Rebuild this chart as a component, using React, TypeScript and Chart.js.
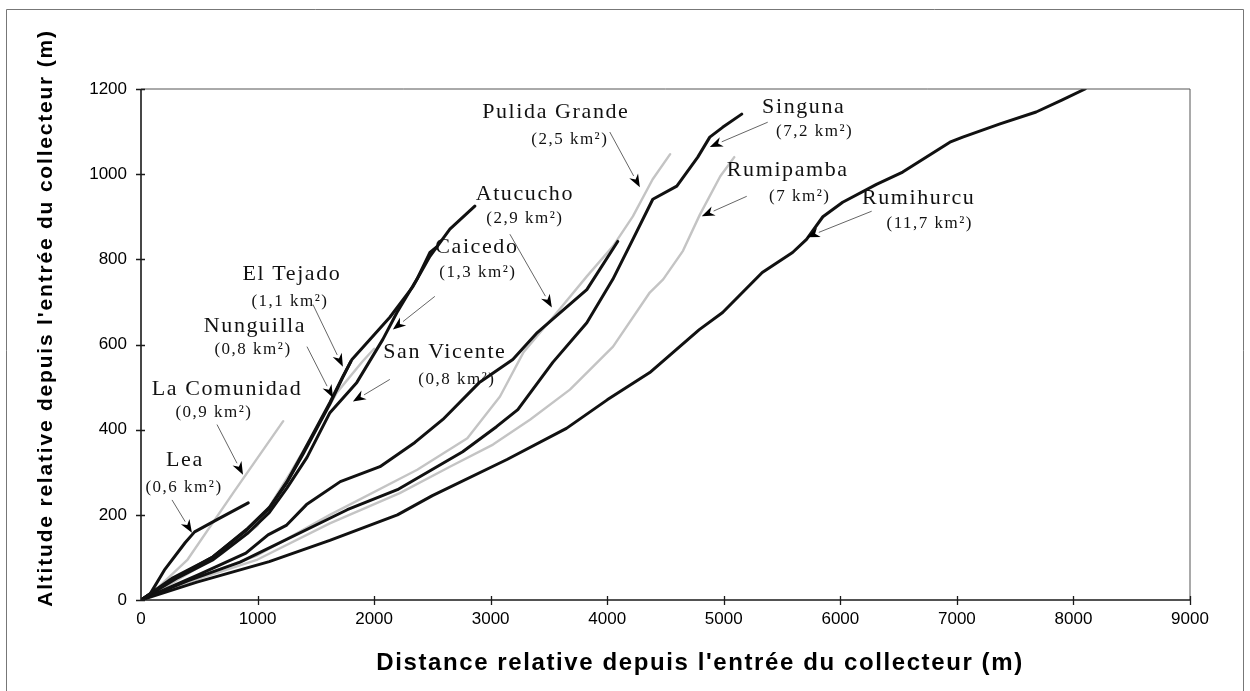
import { useEffect, useRef } from 'react';
import { Chart, registerables } from 'chart.js';

Chart.register(...registerables);

// ---- axis ticks ----
const xTicks = [0, 1000, 2000, 3000, 4000, 5000, 6000, 7000, 8000, 9000];
const yTicks = [0, 200, 400, 600, 800, 1000, 1200];

// ---- series: [distance (m), altitude (m)] ----
const lea = [[0, 0], [80, 15], [200, 70], [380, 135], [460, 160], [660, 190], [920, 228]];
const laComunidad = [[0, 0], [150, 30], [400, 95], [800, 255], [1220, 420]];
const nunguilla = [[0, 0], [270, 48], [610, 100], [910, 165], [1100, 215], [1250, 275], [1390, 342], [1510, 404], [1620, 460], [1730, 522], [1800, 560]];
const elTejado = [[0, 0], [300, 50], [620, 95], [920, 158], [1100, 205], [1250, 262], [1424, 335], [1621, 440], [1852, 511], [2075, 612], [2196, 675], [2367, 753], [2479, 816], [2540, 830]];
const sanVicente = [[0, 0], [300, 45], [700, 110], [1000, 175], [1280, 298], [1500, 400], [1680, 487], [1900, 560], [2000, 590]];
const caicedo = [[0, 0], [274, 52], [617, 101], [918, 169], [1106, 219], [1252, 278], [1389, 346], [1509, 407], [1621, 464], [1732, 525], [1810, 565], [1964, 612], [2135, 664], [2333, 736], [2479, 807], [2650, 871], [2864, 925]];
const atucucho = [[0, 0], [500, 60], [900, 110], [1090, 153], [1250, 176], [1420, 224], [1710, 278], [2050, 313], [2350, 370], [2590, 424], [2900, 510], [3190, 565], [3400, 628], [3530, 659], [3825, 729], [4090, 842]];
const pulidaGrande = [[0, 0], [500, 55], [1000, 105], [1620, 200], [2370, 306], [2800, 380], [3080, 478], [3280, 581], [3590, 682], [3825, 760], [4050, 831], [4220, 901], [4390, 988], [4540, 1047]];
const singuna = [[0, 0], [400, 45], [850, 89], [1770, 212], [2200, 259], [2760, 348], [3050, 407], [3233, 447], [3533, 558], [3825, 651], [4048, 753], [4220, 847], [4391, 941], [4597, 972], [4777, 1040], [4880, 1087], [4990, 1110], [5154, 1141]];
const rumipamba = [[0, 0], [500, 50], [1000, 95], [1620, 180], [2220, 251], [2650, 313], [3020, 365], [3340, 424], [3680, 494], [4050, 595], [4365, 722], [4480, 753], [4650, 820], [4795, 905], [4970, 995], [5090, 1040]];
const rumihurcu = [[0, 0], [480, 42], [1100, 90], [1620, 140], [2200, 200], [2500, 245], [3140, 330], [3650, 403], [4000, 470], [4365, 534], [4790, 635], [4990, 675], [5330, 769], [5590, 816], [5710, 847], [5850, 900], [6020, 934], [6310, 976], [6535, 1005], [6940, 1075], [7050, 1087], [7370, 1118], [7680, 1146], [7900, 1174], [8100, 1200]];

// ---- annotation labels (data coordinates) ----
const labelNames = ['Lea', 'La Comunidad', 'Nunguilla', 'El Tejado', 'San Vicente', 'Caicedo', 'Atucucho', 'Pulida Grande', 'Singuna', 'Rumipamba', 'Rumihurcu'];
const labelAreas = ['0,6', '0,9', '0,8', '1,1', '0,8', '1,3', '2,9', '2,5', '7,2', '7', '11,7'];
const namePos = [[377, 329], [738, 494], [978, 642], [1295, 765], [2607, 581], [2882, 828], [3293, 953], [3559, 1146], [5686, 1158], [5549, 1009], [6672, 944]];
const subPos = [[369, 264], [626, 440], [961, 588], [1278, 701], [2710, 518], [2890, 769], [3293, 896], [3679, 1082], [5780, 1099], [5652, 948], [6767, 885]];
const arrowFrom = [[266, 235], [652, 412], [1424, 595], [1475, 694], [2135, 518], [2521, 713], [3165, 859], [4022, 1099], [5377, 1122], [5197, 948], [6269, 913]];
const arrowTo = [[437, 158], [875, 294], [1647, 475], [1732, 548], [1818, 466], [2161, 635], [3525, 687], [4280, 969], [4880, 1064], [4811, 901], [5712, 852]];

const BLACK = '#111111';
const GRAY = '#c4c4c4';

const seriesList = [
  { label: 'Lea', data: lea, color: BLACK },
  { label: 'Caicedo', data: caicedo, color: BLACK },
  { label: 'El Tejado', data: elTejado, color: BLACK },
  { label: 'Nunguilla', data: nunguilla, color: BLACK },
  { label: 'Atucucho', data: atucucho, color: BLACK },
  { label: 'Singuna', data: singuna, color: BLACK },
  { label: 'Rumihurcu', data: rumihurcu, color: BLACK },
  { label: 'La Comunidad', data: laComunidad, color: GRAY },
  { label: 'San Vicente', data: sanVicente, color: GRAY },
  { label: 'Pulida Grande', data: pulidaGrande, color: GRAY },
  { label: 'Rumipamba', data: rumipamba, color: GRAY },
];

const SANS = '"Liberation Sans", Arial, sans-serif';
const SERIF = '"Liberation Serif", "Times New Roman", serif';

const decorPlugin = {
  id: 'decor',
  beforeDraw(chart: any) {
    const { ctx, width, height } = chart;
    ctx.save();
    ctx.fillStyle = '#ffffff';
    ctx.fillRect(0, 0, width, height);
    // outer frame
    ctx.strokeStyle = '#777777';
    ctx.lineWidth = 1;
    ctx.beginPath();
    ctx.moveTo(6.5, height);
    ctx.lineTo(6.5, 9.5);
    ctx.lineTo(1243.5, 9.5);
    ctx.lineTo(1243.5, height);
    ctx.stroke();
    ctx.restore();
  },
  afterDatasetsDraw(chart: any) {
    const { ctx, chartArea: a, scales } = chart;
    const xs = scales.x;
    const ys = scales.y;
    ctx.save();
    // plot box
    ctx.strokeStyle = '#555555';
    ctx.lineWidth = 1;
    ctx.beginPath();
    ctx.moveTo(a.left, a.top);
    ctx.lineTo(a.right, a.top);
    ctx.lineTo(a.right, a.bottom);
    ctx.stroke();
    ctx.strokeStyle = '#1a1a1a';
    ctx.lineWidth = 1.6;
    ctx.beginPath();
    ctx.moveTo(a.left, a.top);
    ctx.lineTo(a.left, a.bottom);
    ctx.lineTo(a.right, a.bottom);
    ctx.stroke();
    // ticks crossing the axes
    ctx.lineWidth = 1.3;
    ctx.beginPath();
    xTicks.forEach((v) => {
      const px = Math.round(xs.getPixelForValue(v)) + 0.5;
      if (v === 0) return;
      ctx.moveTo(px, a.bottom - 4);
      ctx.lineTo(px, a.bottom + 5);
    });
    yTicks.forEach((v) => {
      const py = Math.round(ys.getPixelForValue(v)) + 0.5;
      ctx.moveTo(a.left - 5, py);
      ctx.lineTo(a.left + 4, py);
    });
    ctx.stroke();

    // axis titles
    ctx.fillStyle = '#000000';
    ctx.textAlign = 'center';
    ctx.textBaseline = 'middle';
    (ctx as any).letterSpacing = '1.6px';
    ctx.font = `bold 24px ${SANS}`;
    ctx.fillText("Distance relative depuis l'entrée du collecteur (m)", 700, 663);
    ctx.save();
    ctx.translate(46, 318);
    ctx.rotate(-Math.PI / 2);
    (ctx as any).letterSpacing = '1.8px';
    ctx.font = `bold 21px ${SANS}`;
    ctx.fillText("Altitude relative depuis l'entrée du collecteur (m)", 0, 0);
    ctx.restore();
    (ctx as any).letterSpacing = '0px';

    // annotations
    labelNames.forEach((name, i) => {
      const fx = xs.getPixelForValue(arrowFrom[i][0]);
      const fy = ys.getPixelForValue(arrowFrom[i][1]);
      const tx = xs.getPixelForValue(arrowTo[i][0]);
      const ty = ys.getPixelForValue(arrowTo[i][1]);
      const ang = Math.atan2(ty - fy, tx - fx);
      const headLen = 13;
      const headW = 5;
      const bx = tx - Math.cos(ang) * headLen;
      const by = ty - Math.sin(ang) * headLen;
      ctx.strokeStyle = '#666666';
      ctx.lineWidth = 1;
      ctx.beginPath();
      ctx.moveTo(fx, fy);
      ctx.lineTo(bx, by);
      ctx.stroke();
      ctx.fillStyle = '#000000';
      ctx.beginPath();
      ctx.moveTo(tx, ty);
      ctx.lineTo(bx - Math.sin(ang) * headW, by + Math.cos(ang) * headW);
      ctx.lineTo(bx + Math.cos(ang) * 4, by + Math.sin(ang) * 4);
      ctx.lineTo(bx + Math.sin(ang) * headW, by - Math.cos(ang) * headW);
      ctx.closePath();
      ctx.fill();

      ctx.fillStyle = '#111111';
      ctx.textAlign = 'center';
      ctx.textBaseline = 'middle';
      (ctx as any).letterSpacing = '1.6px';
      ctx.font = `22px ${SERIF}`;
      ctx.fillText(name, xs.getPixelForValue(namePos[i][0]), ys.getPixelForValue(namePos[i][1]));
      (ctx as any).letterSpacing = '1.5px';
      ctx.font = `17px ${SERIF}`;
      ctx.fillText(`(${labelAreas[i]} km²)`, xs.getPixelForValue(subPos[i][0]), ys.getPixelForValue(subPos[i][1]));
      (ctx as any).letterSpacing = '0px';
    });
    ctx.restore();
  },
};

export default function App() {
  const canvasRef = useRef<HTMLCanvasElement | null>(null);

  useEffect(() => {
    if (!canvasRef.current) return;
    const chart = new Chart(canvasRef.current, {
      type: 'line',
      data: {
        datasets: seriesList.map((s) => ({
          label: s.label,
          data: s.data.map(([x, y]) => ({ x, y })),
          borderColor: s.color,
          backgroundColor: s.color,
          borderWidth: s.color === BLACK ? 3 : 2.4,
          pointRadius: 0,
          tension: 0,
          fill: false,
          borderJoinStyle: 'round' as const,
          borderCapStyle: 'round' as const,
        })),
      },
      options: {
        animation: false,
        responsive: false,
        layout: { padding: { left: 0, right: 60, top: 89, bottom: 0 } },
        plugins: { legend: { display: false }, tooltip: { enabled: false }, title: { display: false } },
        scales: {
          x: {
            type: 'linear',
            min: 0,
            max: 9000,
            afterBuildTicks: (s: any) => { s.ticks = xTicks.map((v) => ({ value: v })); },
            afterFit: (s: any) => { s.height = 91; },
            ticks: { font: { family: SANS, size: 17 }, color: '#000', padding: 9, maxRotation: 0, autoSkip: false, callback: (v: any) => String(v) },
            grid: { display: false, drawTicks: false },
            border: { display: false },
          },
          y: {
            type: 'linear',
            min: 0,
            max: 1200,
            afterBuildTicks: (s: any) => { s.ticks = yTicks.map((v) => ({ value: v })); },
            afterFit: (s: any) => { s.width = 141; },
            ticks: { font: { family: SANS, size: 17 }, color: '#000', padding: 14, autoSkip: false, callback: (v: any) => String(v) },
            grid: { display: false, drawTicks: false },
            border: { display: false },
          },
        },
      },
      plugins: [decorPlugin],
    });
    return () => chart.destroy();
  }, []);

  return (
    <div style={{ position: 'fixed', left: 0, top: 0, width: 1250, height: 691, background: '#fff' }}>
      <canvas ref={canvasRef} width={1250} height={691} style={{ display: 'block' }} />
    </div>
  );
}
